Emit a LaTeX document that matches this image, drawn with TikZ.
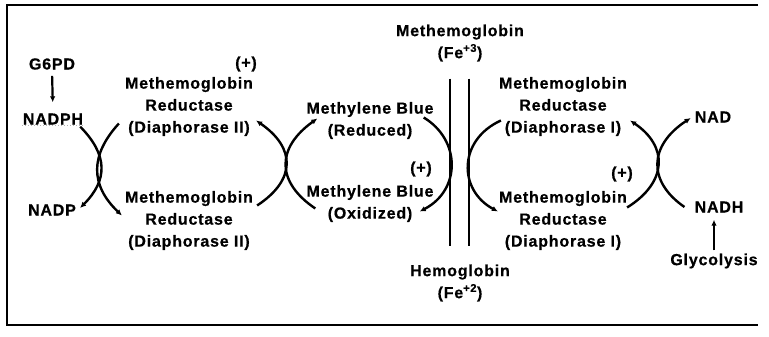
\documentclass[tikz,border=0pt]{standalone}
\usepackage{fontspec}
\setmainfont{Liberation Sans}[LetterSpace=5, BoldFeatures={FakeBold=0.6}]
\usetikzlibrary{arrows.meta}
\begin{document}
\begin{tikzpicture}[>={Latex[length=6pt,width=5.5pt]}, x=1pt, y=-1pt,
    txt/.style={font=\fontsize{16}{22}\selectfont\bfseries, align=center, inner sep=1pt},
    arc/.style={line width=2.4pt}]
    \useasboundingbox (0,0) rectangle (769,337);

    % 1. Outer frame (open on the right)
    \draw[line width=1.8pt] (758,5) -- (7,5) -- (7,325) -- (758,325);

    % 2. Left column: G6PD -> NADPH, NADP
    \node[txt] (g6pd) at (52,64) {G6PD};
    \node[txt] (nadph) at (53,119) {NADPH};
    \node[txt] (nadp) at (52,210) {NADP};
    \draw[->, line width=2.2pt, shorten <=5pt, shorten >=10pt] (g6pd.south) -- (nadph.north);
    \draw[gray!60, dotted, line width=1pt] (nadph.south west) -- (nadph.south east);

    % 3. Methemoglobin Reductase (Diaphorase II)
    \node[txt] (mr2a) at (189,106.5) {Methemoglobin\\Reductase\\(Diaphorase II)};
    \node[txt] (mr2b) at (189,220.5) {Methemoglobin\\Reductase\\(Diaphorase II)};
    \node[txt] (plus1) at (246,64) {(+)};
    % NADPH -> NADP and Diaphorase II (+) -> Diaphorase II
    \draw[arc, ->] ([shift={(-4,1)}]nadph.south east) .. controls (108,155) and (108,180) .. ([shift={(3,-2)}]nadp.east);
    \draw[arc, ->] ([shift={(-5,17)}]mr2a.west) .. controls (90,155) and (90,185) .. ([shift={(-2,-5)}]mr2b.west);

    % 4. Methylene Blue
    \node[txt] (mbred) at (370,120.5) {Methylene Blue\\(Reduced)};
    \node[txt] (mbox) at (370,203.5) {Methylene Blue\\(Oxidized)};
    \node[txt] (plus2) at (421,169) {(+)};
    % Diaphorase II -> Diaphorase II (+) and oxidized -> reduced
    \draw[arc, ->] ([shift={(3,-15)}]mr2b.east) .. controls (296,180) and (296,148) .. ([shift={(2,14)}]mr2a.east);
    \draw[arc, ->] ([shift={(10,5)}]mbox.west) .. controls (276,182) and (276,148) .. ([shift={(12,-2)}]mbred.west);

    % 5. Methemoglobin / Hemoglobin
    \node[txt] (methb) at (460,43) {Methemoglobin\\(Fe\textsuperscript{+3})};
    \node[txt] (hb) at (460,283) {Hemoglobin\\(Fe\textsuperscript{+2})};
    \draw[line width=2.6pt] ([shift={(-10,16)}]methb.south) -- ([shift={(-10,-17)}]hb.north);
    \draw[line width=2.6pt] ([shift={(9,16)}]methb.south) -- ([shift={(9,-17)}]hb.north);
    \draw[arc, ->] ([shift={(-11,-3)}]mbred.east) .. controls (461,140) and (461,190) .. ([shift={(-15,8)}]mbox.east);

    % 6. Methemoglobin Reductase (Diaphorase I)
    \node[txt] (mr1a) at (563,106.5) {Methemoglobin\\Reductase\\(Diaphorase I)};
    \node[txt] (mr1b) at (563,220.5) {Methemoglobin\\Reductase\\(Diaphorase I)};
    \node[txt] (plus3) at (622,174) {(+)};
    \draw[arc, ->] ([shift={(3,14)}]mr1a.west) .. controls (458,140) and (458,190) .. ([shift={(0,-9)}]mr1b.west);

    % 7. Right column: NADH -> NAD, Glycolysis -> NADH
    \node[txt] (nad) at (713,117) {NAD};
    \node[txt] (nadh) at (719,207) {NADH};
    \node[txt] (glyc) at (714,261) {Glycolysis};
    \draw[arc, ->] ([shift={(-1,-13)}]mr1b.east) .. controls (668,182) and (668,146) .. ([shift={(2,14)}]mr1a.east);
    \draw[arc, ->] ([shift={(-9,0)}]nadh.west) .. controls (648,182) and (648,146) .. ([shift={(-3,1)}]nad.west);
    \draw[->, line width=2.2pt, shorten <=2pt, shorten >=6pt] (glyc.north) -- (glyc.north |- nadh.south);

\end{tikzpicture}
\end{document}
